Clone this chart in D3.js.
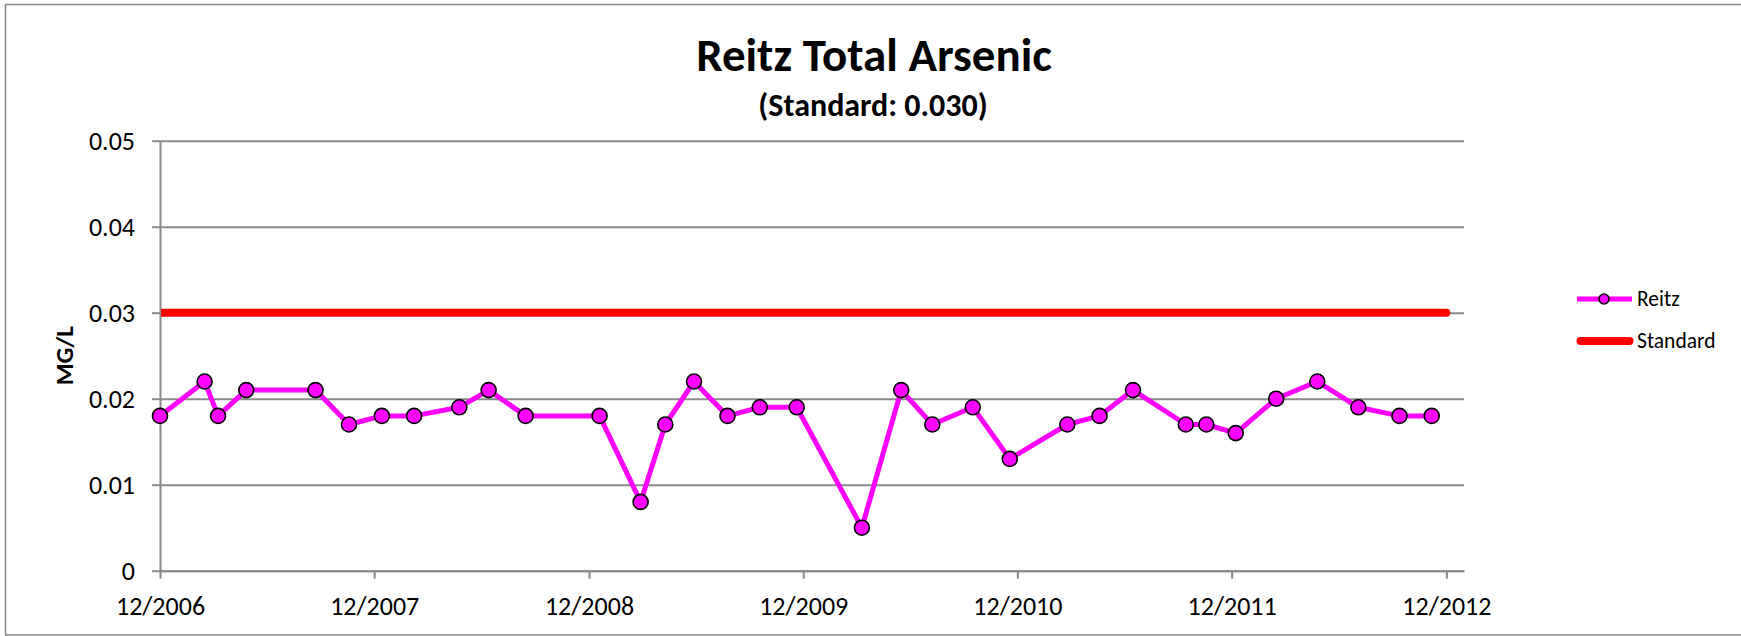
<!DOCTYPE html>
<html>
<head>
<meta charset="utf-8">
<script src="https://cdn.jsdelivr.net/npm/d3@7"></script>
<style>
    body { margin: 0; background: #fff; }
    svg { display: block; font-family: Carlito, Calibri, Lato, "Liberation Sans", sans-serif; }
    svg text { font-family: Carlito, Calibri, Lato, "Liberation Sans", sans-serif; }
</style>
</head>
<body>
<div id="chart"></div>
<script>
// Sample dates and results (MG/L)
const sampleDates = [
    '2006-12-01', '2007-02-15', '2007-03-10', '2007-04-27', '2007-08-23', '2007-10-19',
    '2007-12-14', '2008-02-07', '2008-04-24', '2008-06-13', '2008-08-15', '2008-12-19',
    '2009-02-27', '2009-04-10', '2009-05-29', '2009-07-25', '2009-09-18', '2009-11-20',
    '2010-03-11', '2010-05-17', '2010-07-09', '2010-09-16', '2010-11-18', '2011-02-24',
    '2011-04-20', '2011-06-16', '2011-09-14', '2011-10-19', '2011-12-08', '2012-02-15',
    '2012-04-25', '2012-07-04', '2012-09-12', '2012-11-06'
];
const reitzValues = [
    0.018, 0.022, 0.018, 0.021, 0.021, 0.017,
    0.018, 0.018, 0.019, 0.021, 0.018, 0.018,
    0.008, 0.017, 0.022, 0.018, 0.019, 0.019,
    0.005, 0.021, 0.017, 0.019, 0.013, 0.017,
    0.018, 0.021, 0.017, 0.017, 0.016, 0.020,
    0.022, 0.019, 0.018, 0.018
];
const standardDates = ['2006-12-01', '2012-12-01'];
const standardValues = [0.03, 0.03];

const xDomain = ['2006-12-01', '2012-12-31'];
const xTickDates = ['2006-12-01', '2007-12-01', '2008-12-01', '2009-12-01', '2010-12-01', '2011-12-01', '2012-12-01'];
const yTicks = [0, 0.01, 0.02, 0.03, 0.04, 0.05];
const legendNames = ['Reitz', 'Standard'];

const parse = d3.utcParse('%Y-%m-%d');

const width = 1741;
const height = 636;
const margin = { top: 140.7, right: 277, bottom: 65.3, left: 160 };
const w = width - margin.left - margin.right;
const h = height - margin.top - margin.bottom;

const svg = d3.select('#chart')
    .append('svg')
    .attr('width', width)
    .attr('height', height);

// chart border
svg.append('rect')
    .attr('x', 5.5)
    .attr('y', 4.5)
    .attr('width', 1760)
    .attr('height', 630.5)
    .attr('fill', 'none')
    .attr('stroke', '#878787')
    .attr('stroke-width', 1.5);

svg.append('text')
    .attr('x', 874)
    .attr('y', 71)
    .attr('text-anchor', 'middle')
    .style('font-size', '47px')
    .style('font-weight', 'bold')
    .text('Reitz Total Arsenic');

svg.append('text')
    .attr('x', 873)
    .attr('y', 115.5)
    .attr('text-anchor', 'middle')
    .style('font-size', '32px')
    .style('font-weight', 'bold')
    .text('(Standard: 0.030)');

const g = svg.append('g')
    .attr('transform', `translate(${margin.left},${margin.top})`);

const x = d3.scaleUtc()
    .domain(xDomain.map(parse))
    .range([0, w]);

const y = d3.scaleLinear()
    .domain([0, 0.05])
    .range([h, 0]);

// gridlines
g.append('g')
    .attr('class', 'grid')
    .call(d3.axisLeft(y).tickValues(yTicks).tickSize(-w).tickFormat(''))
    .call(sel => sel.select('.domain').remove())
    .call(sel => sel.selectAll('line').attr('stroke', '#8a8a8a').attr('stroke-width', 2));

const yAxis = g.append('g')
    .call(d3.axisLeft(y)
        .tickValues(yTicks)
        .tickSize(8)
        .tickSizeOuter(0)
        .tickPadding(17)
        .tickFormat(d => d === 0 ? '0' : d.toFixed(2)));

const xAxis = g.append('g')
    .attr('transform', `translate(0,${h})`)
    .call(d3.axisBottom(x)
        .tickValues(xTickDates.map(parse))
        .tickSize(8)
        .tickSizeOuter(0)
        .tickPadding(18)
        .tickFormat(d3.utcFormat('%m/%Y')));

[yAxis, xAxis].forEach(ax => {
    ax.attr('font-family', null).attr('font-size', null);
    ax.select('.domain').attr('stroke', '#8a8a8a').attr('stroke-width', 2);
    ax.selectAll('.tick line').attr('stroke', '#8a8a8a').attr('stroke-width', 2);
    ax.selectAll('.tick text')
        .attr('fill', '#000')
        .style('font-size', '26px');
});

svg.append('text')
    .attr('transform', `translate(73,${margin.top + h / 2}) rotate(-90)`)
    .attr('text-anchor', 'middle')
    .style('font-size', '25px')
    .style('font-weight', 'bold')
    .text('MG/L');

// standard line, clipped to the plot area
g.append('clipPath')
    .attr('id', 'plotClip')
    .append('rect')
    .attr('x', 1)
    .attr('y', -10)
    .attr('width', w)
    .attr('height', h + 20);

const standardData = standardDates.map((d, i) => ({ date: parse(d), value: standardValues[i] }));
const reitzData = sampleDates.map((d, i) => ({ date: parse(d), value: reitzValues[i] }));

const line = d3.line()
    .x(d => x(d.date))
    .y(d => y(d.value));

g.append('path')
    .datum(standardData)
    .attr('clip-path', 'url(#plotClip)')
    .attr('d', line)
    .attr('fill', 'none')
    .attr('stroke', '#ff0000')
    .attr('stroke-width', 8)
    .attr('stroke-linecap', 'round');

g.append('path')
    .datum(reitzData)
    .attr('d', line)
    .attr('fill', 'none')
    .attr('stroke', '#ff00ff')
    .attr('stroke-width', 5)
    .attr('stroke-linejoin', 'round');

g.selectAll('.dot')
    .data(reitzData)
    .enter().append('circle')
    .attr('class', 'dot')
    .attr('cx', d => x(d.date))
    .attr('cy', d => y(d.value))
    .attr('r', 7.5)
    .attr('fill', '#ff00ff')
    .attr('stroke', '#000')
    .attr('stroke-width', 1.6);

// legend
const legend = svg.append('g')
    .attr('transform', 'translate(1577,299)');

const item = legend.selectAll('.item')
    .data(legendNames)
    .enter().append('g')
    .attr('class', 'item')
    .attr('transform', (d, i) => `translate(0,${i * 42})`);

item.append('line')
    .attr('x1', (d, i) => i === 0 ? 0 : 3.5)
    .attr('x2', (d, i) => i === 0 ? 55 : 52.5)
    .attr('stroke', (d, i) => i === 0 ? '#ff00ff' : '#ff0000')
    .attr('stroke-width', (d, i) => i === 0 ? 5 : 8)
    .attr('stroke-linecap', (d, i) => i === 0 ? 'butt' : 'round');

item.filter((d, i) => i === 0)
    .append('circle')
    .attr('cx', 27)
    .attr('r', 5)
    .attr('fill', '#ff00ff')
    .attr('stroke', '#000')
    .attr('stroke-width', 1.6);

item.append('text')
    .attr('x', 60)
    .attr('y', 6.5)
    .style('font-size', '21.5px')
    .text(d => d);
</script>
</body>
</html>
